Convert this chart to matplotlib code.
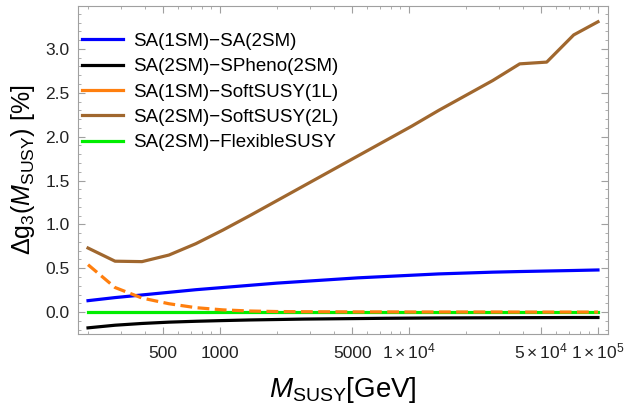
#!/usr/bin/env python
"""
Delta g3 at M_SUSY, comparison of spectrum generators
"""

import numpy as np
import matplotlib
matplotlib.use('Agg')
from matplotlib import pyplot as plt
from matplotlib.lines import Line2D
from matplotlib.ticker import FixedLocator, FuncFormatter, MultipleLocator

# 20 log-spaced scale points between 200 GeV and 100 TeV
msusy = [200, 278, 386, 536, 745, 1035, 1438, 1998, 2776, 3857,
         5358, 7444, 10343, 14370, 19965, 27738, 38537, 53542, 74389, 100000]

sa1_sa2 = [0.13, 0.165, 0.195, 0.225, 0.255, 0.28, 0.305, 0.33, 0.35, 0.37,
           0.39, 0.405, 0.42, 0.435, 0.445, 0.455, 0.462, 0.468, 0.474, 0.48]
sa2_spheno = [-0.18, -0.15, -0.13, -0.115, -0.105, -0.097, -0.09, -0.085, -0.08, -0.077,
              -0.074, -0.071, -0.069, -0.067, -0.066, -0.065, -0.064, -0.063, -0.062, -0.062]
sa1_softsusy1l = [0.54, 0.28, 0.16, 0.095, 0.05, 0.025, 0.012, 0.006, 0.004, 0.003,
                  0.002, 0.002, 0.001, 0.001, 0.001, 0.001, 0.0, 0.0, 0.0, 0.0]
sa2_softsusy2l = [0.73, 0.58, 0.575, 0.65, 0.78, 0.935, 1.10, 1.27, 1.44, 1.61,
                  1.78, 1.95, 2.12, 2.30, 2.47, 2.64, 2.83, 2.85, 3.16, 3.31]
sa2_flexible = [0.0] * 20

labels = ['SA(1SM)\u2212SA(2SM)', 'SA(2SM)\u2212SPheno(2SM)',
          'SA(1SM)\u2212SoftSUSY(1L)', 'SA(2SM)\u2212SoftSUSY(2L)',
          'SA(2SM)\u2212FlexibleSUSY']
colors = ['#0000ff', 'black', '#ff7f0e', '#a0672e', '#00ee00']

xmajor = [500, 1000, 5000, 10000, 50000, 100000]
xmajor_labels = ['500', '1000', '5000', r'$1\times10^4$', r'$5\times10^4$', r'$1\times10^5$']

plt.rcParams['font.family'] = ['Liberation Sans', 'DejaVu Sans']
plt.rcParams['mathtext.fontset'] = 'custom'
plt.rcParams['mathtext.rm'] = 'Liberation Sans'
plt.rcParams['mathtext.it'] = 'Liberation Sans:italic'

fig = plt.figure(figsize=(6.25, 4.09), dpi=100)
ax = fig.add_axes([0.1248, 0.1834, 0.848, 0.802])

lw = 2.3
ax.plot(msusy, sa1_sa2, color=colors[0], lw=lw, zorder=3)
ax.plot(msusy, sa2_spheno, color=colors[1], lw=lw, zorder=3)
ax.plot(msusy, sa1_softsusy1l, color=colors[2], lw=lw, ls=(0, (3.7, 1.7)), zorder=4)
ax.plot(msusy, sa2_softsusy2l, color=colors[3], lw=lw, zorder=3)
ax.plot(msusy, sa2_flexible, color=colors[4], lw=lw, zorder=2)

ax.set_xscale('log')
ax.set_xlim(177, 113000)
ax.set_ylim(-0.25, 3.49)

ax.xaxis.set_major_locator(FixedLocator(xmajor))
ax.xaxis.set_major_formatter(FuncFormatter(
    lambda v, p: dict(zip(xmajor, xmajor_labels)).get(int(round(v)), '')))
minors = [m * 10 ** e for e in range(2, 6) for m in range(1, 10)]
ax.xaxis.set_minor_locator(FixedLocator(minors))
ax.xaxis.set_minor_formatter(FuncFormatter(lambda v, p: ''))
ax.yaxis.set_major_locator(MultipleLocator(0.5))
ax.yaxis.set_minor_locator(MultipleLocator(0.1))
ax.yaxis.set_major_formatter(FuncFormatter(lambda v, p: '%.1f' % v))

for s in ax.spines.values():
    s.set_color('#a0a0a0')
ax.tick_params(which='both', direction='in', top=True, right=True, color='#a0a0a0',
               labelsize=12.5, labelcolor='#222222')
ax.tick_params(which='major', length=5, width=0.8)
ax.tick_params(which='minor', length=2.5, width=0.6)
ax.xaxis.set_tick_params(which='major', pad=17.3)
ax.yaxis.set_tick_params(which='major', pad=6)

ax.set_xlabel(r'$M_{\rm SUSY}$[GeV]', fontsize=20, labelpad=10)
ax.set_ylabel(r'$\Delta \mathrm{g}_3(M_{\rm SUSY})$ [%]', fontsize=18, labelpad=6)

handles = [Line2D([], [], color=c, lw=lw) for c in colors]
ax.legend(handles, labels,
          loc='upper left', bbox_to_anchor=(0.0, 0.93), frameon=False, fontsize=13.5,
          handlelength=2.19, handletextpad=0.53, labelspacing=0.44, borderaxespad=0.0,
          borderpad=0.2)

# align the x tick labels on their baseline so the powers of ten sit like the plain numbers
fig.canvas.draw()
for lbl in ax.xaxis.get_majorticklabels():
    lbl.set_verticalalignment('baseline')

plt.savefig('out.png', dpi=100)
